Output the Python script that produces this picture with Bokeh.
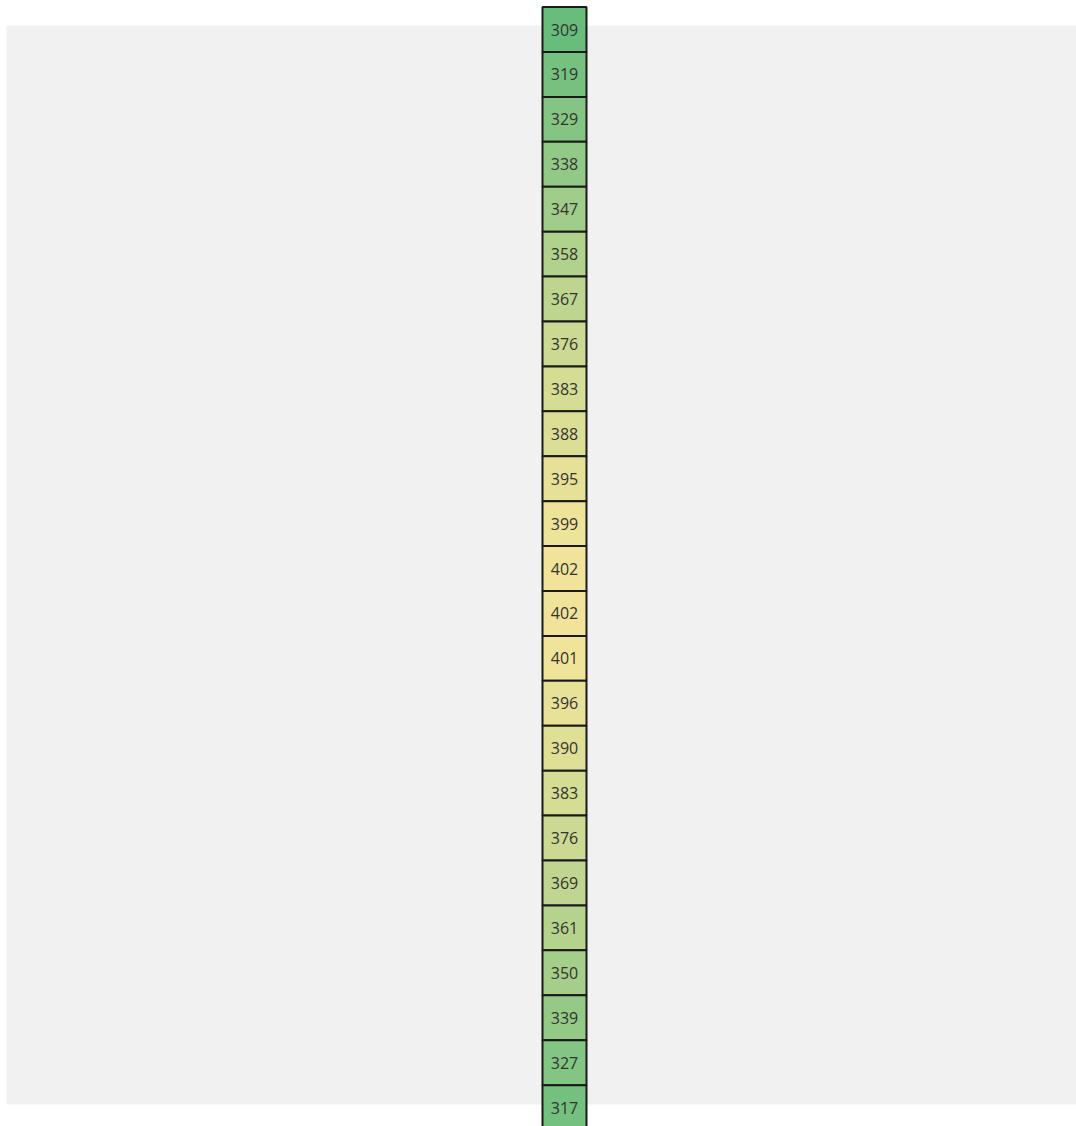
from bokeh.plotting import figure
from bokeh.models import ColumnDataSource, Range1d, BoxAnnotation
from bokeh.embed import file_html
from bokeh.resources import INLINE
from bokeh.core.properties import value

values = [309, 319, 329, 338, 347, 358, 367, 376, 383, 388, 395, 399, 402,
          402, 401, 396, 390, 383, 376, 369, 361, 350, 339, 327, 317]
rows = list(range(len(values)))
labels = [str(v) for v in values]

lo_col = (0x68, 0xBD, 0x7D)
hi_col = (0xF1, 0xE4, 0x9A)
vmin, vmax = min(values), max(values)


def shade(v):
    t = (v - vmin) / (vmax - vmin)
    c = [round(a + (b - a) * t) for a, b in zip(lo_col, hi_col)]
    return "#%02x%02x%02x" % tuple(c)


colors = [shade(v) for v in values]
src = ColumnDataSource(dict(x=[0] * len(values), y=rows, v=values,
                            label=labels, color=colors))

W, H = 1076, 1126
p = figure(width=W, height=H, output_backend="svg", toolbar_location=None,
           x_range=Range1d(-564 / 44, 512 / 44),
           y_range=Range1d(24.421, -0.6456),
           min_border=0)
p.axis.visible = False
p.grid.visible = False
p.outline_line_color = None
p.background_fill_color = "white"
p.border_fill_color = "white"

# screen y units are measured from the bottom of the canvas
bg = BoxAnnotation(left=6, right=W, top=H - 25, bottom=H - 1104,
                   left_units="screen", right_units="screen",
                   top_units="screen", bottom_units="screen",
                   fill_color="#F1F1F1", fill_alpha=1, line_color=None,
                   level="underlay")
p.add_layout(bg)

p.rect(x="x", y="y", width=1, height=1, source=src, fill_color="color",
       line_color="#1a1a1a", line_width=2)
p.text(x="x", y="y", text="label", source=src, text_align="center",
       text_baseline="middle", text_font=value("Open Sans"),
       text_font_size="16px", text_color="#333333")

open("out.html", "w").write(file_html(p, INLINE))
